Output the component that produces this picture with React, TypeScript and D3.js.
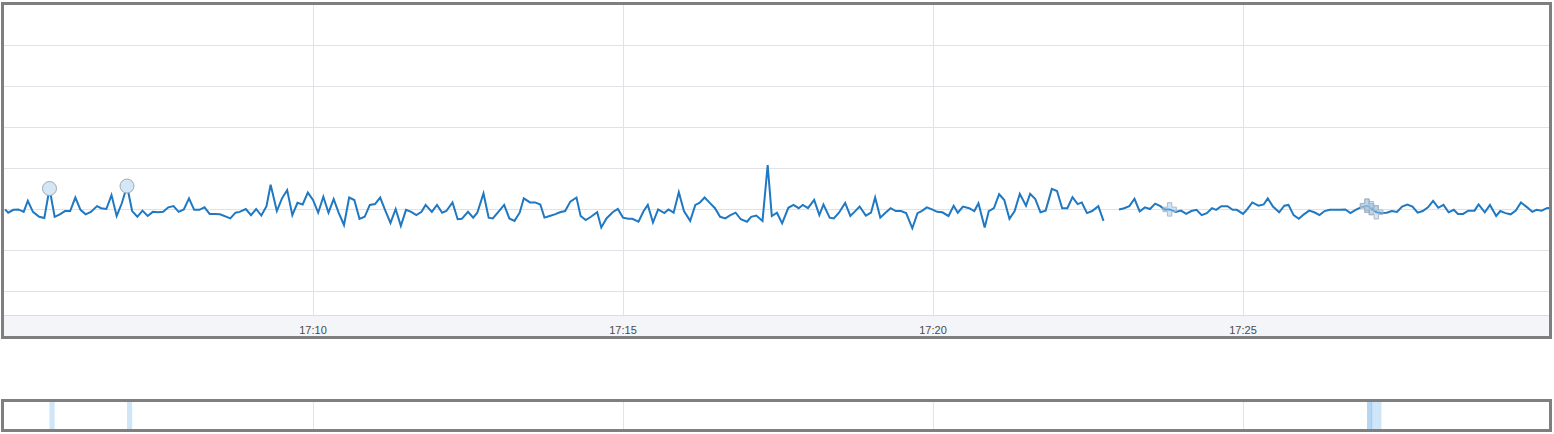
import React from "react";
import * as d3 from "d3";

// seconds after 17:05:00, value
const seriesBeforeGap: [number, number][] = [
  [2, 29.9], [5, 29.1], [10, 29.8], [15, 29.9], [20, 29.3], [24, 32.0], [29, 29.3], [35, 28.1], [40, 27.8], [45, 35.0],
  [50, 28.1], [55, 28.7], [60, 29.5], [65, 29.5], [70, 32.8], [75, 29.8], [80, 28.7], [85, 29.3], [91, 30.7], [95, 30.2],
  [100, 30.0], [105, 33.4], [110, 28.3], [115, 31.4], [120, 35.6], [125, 29.5], [130, 28.1], [135, 29.6], [140, 28.3], [145, 29.3],
  [150, 29.2], [155, 29.3], [160, 30.4], [165, 30.7], [170, 29.3], [175, 29.9], [180, 32.6], [185, 29.8], [190, 29.8], [195, 30.4],
  [200, 28.8], [205, 28.8], [210, 28.7], [220, 27.7], [225, 29.1], [229, 29.3], [235, 30.0], [240, 28.5], [245, 30.0], [250, 28.4],
  [255, 30.7], [259, 35.9], [265, 29.5], [270, 32.6], [275, 34.6], [280, 28.5], [285, 31.5], [290, 31.1], [295, 34.0], [300, 32.2],
  [305, 29.1], [310, 33.0], [315, 29.1], [320, 32.4], [325, 29.0], [330, 26.1], [335, 32.8], [340, 32.2], [345, 27.6], [350, 28.1],
  [355, 31.0], [360, 31.2], [365, 32.8], [370, 29.6], [375, 26.6], [380, 30.0], [385, 25.9], [390, 29.8], [395, 29.3], [400, 28.5],
  [405, 29.3], [409, 31.0], [415, 29.3], [420, 31.0], [425, 29.1], [429, 29.5], [435, 31.6], [440, 27.5], [444, 27.6], [450, 29.3],
  [455, 27.9], [459, 29.1], [465, 33.8], [470, 27.9], [474, 27.7], [480, 29.5], [485, 31.0], [490, 27.7], [495, 27.1], [500, 29.1],
  [504, 32.6], [510, 31.6], [515, 31.6], [520, 31.1], [524, 27.9], [529, 28.3], [534, 28.7], [539, 29.2], [544, 29.5], [549, 31.8],
  [555, 32.8], [559, 28.3], [564, 27.3], [569, 28.1], [575, 29.2], [579, 25.5], [584, 27.7], [590, 29.2], [595, 30.0], [600, 27.9],
  [605, 27.6], [609, 27.6], [615, 26.9], [620, 29.5], [624, 31.0], [629, 26.7], [634, 29.9], [640, 29.0], [644, 29.9], [649, 29.1],
  [654, 34.1], [659, 29.5], [665, 27.1], [670, 31.0], [674, 31.5], [679, 32.8], [684, 31.5], [689, 30.2], [694, 28.1], [699, 27.7],
  [704, 28.5], [709, 29.1], [714, 27.5], [720, 26.9], [724, 28.1], [729, 28.4], [735, 27.1], [740, 40.7], [744, 28.3], [749, 29.1],
  [754, 26.5], [760, 30.3], [765, 31.0], [770, 30.2], [774, 31.0], [779, 30.2], [785, 32.2], [790, 28.5], [794, 31.1], [800, 27.9],
  [804, 27.7], [809, 29.1], [815, 31.5], [820, 28.3], [824, 29.3], [829, 30.6], [835, 28.4], [840, 29.1], [844, 32.8], [849, 27.9],
  [854, 29.1], [859, 30.2], [864, 29.5], [869, 29.5], [874, 29.0], [880, 25.3], [885, 29.0], [889, 29.5], [894, 30.4], [899, 29.9],
  [904, 29.3], [909, 29.2], [915, 28.3], [920, 30.8], [924, 29.1], [929, 30.6], [935, 30.2], [940, 29.5], [944, 31.4], [950, 25.5],
  [954, 29.5], [959, 30.2], [964, 33.6], [969, 32.2], [974, 27.6], [979, 29.5], [984, 33.7], [990, 30.8], [994, 33.7], [999, 32.4],
  [1004, 29.2], [1009, 29.6], [1015, 34.9], [1020, 34.4], [1025, 30.2], [1030, 30.2], [1035, 32.9], [1040, 31.2], [1044, 31.6], [1049, 29.0],
  [1054, 29.5], [1060, 30.7], [1065, 27.1],
];

const seriesAfterGap: [number, number][] = [
  [1080, 29.9], [1085, 30.2], [1090, 30.7], [1095, 32.5], [1100, 29.4], [1105, 30.4], [1110, 30.0], [1115, 31.3], [1120, 30.7], [1124, 29.9],
  [1129, 29.9], [1135, 29.3], [1140, 29.6], [1145, 28.8], [1150, 29.5], [1155, 29.8], [1160, 28.5], [1165, 29.0], [1170, 30.2], [1174, 29.8],
  [1179, 30.7], [1185, 30.7], [1190, 29.8], [1194, 29.8], [1200, 28.8], [1204, 29.9], [1209, 31.6], [1215, 30.8], [1220, 31.1], [1224, 32.6],
  [1229, 30.6], [1235, 29.2], [1240, 30.8], [1244, 31.0], [1249, 28.5], [1254, 27.6], [1259, 28.7], [1264, 29.6], [1269, 29.2], [1274, 28.5],
  [1279, 29.5], [1284, 29.8], [1289, 29.8], [1294, 29.8], [1299, 29.9], [1304, 29.0], [1309, 29.8], [1314, 30.4], [1320, 30.8], [1324, 30.2],
  [1329, 29.2], [1334, 29.0], [1339, 29.1], [1344, 29.5], [1349, 29.3], [1354, 30.6], [1359, 31.1], [1364, 30.6], [1369, 29.1], [1374, 29.5],
  [1379, 30.4], [1384, 32.0], [1389, 30.3], [1394, 31.0], [1399, 29.2], [1404, 29.8], [1408, 28.8], [1413, 28.8], [1418, 29.6], [1424, 29.6],
  [1428, 31.1], [1434, 29.2], [1439, 31.0], [1445, 28.3], [1449, 29.5], [1454, 29.0], [1459, 28.7], [1464, 29.6], [1469, 31.6], [1475, 30.4],
  [1480, 29.3], [1484, 29.8], [1489, 29.6], [1494, 30.2], [1499, 30.3],
];

const circleEvents = [45, 120];
const plusEvents = [1129, 1320, 1320, 1324, 1329];
const overviewBands = [45, 120, 1320, 1320, 1324, 1329];
const tickLabels = ["17:10", "17:15", "17:20", "17:25"];
const gridValues = [10, 20, 30, 40, 50, 60, 70];

const SAMPLE_SEC = 5;
const base = new Date(2024, 0, 1, 17, 5, 0);
const toDate = (s: number) => new Date(base.getTime() + s * 1000);
const labelToDate = (l: string) => {
  const [h, m] = l.split(":").map(Number);
  return new Date(2024, 0, 1, h, m, 0);
};

export default function App() {
  const W = 1554;
  const H = 434;
  const x = d3.scaleTime().domain([base, toDate(25 * 60)]).range([3, 1553]);
  const y = d3.scaleLinear().domain([0, 80]).range([332, 4]);

  const plotL = 4, plotR = 1549, plotT = 5, plotB = 315, axisB = 336;
  const ovT = 402, ovB = 429;

  const line = d3
    .line<[number, number]>()
    .x((d) => x(toDate(d[0])))
    .y((d) => y(d[1]));

  const all = [...seriesBeforeGap, ...seriesAfterGap];
  const valueAt = (s: number) => {
    const f = all.find((d) => d[0] === s);
    return f ? f[1] : 30;
  };
  const plusPath = d3.symbol().type(d3.symbolCross).size(100)() as string;
  const ticks = tickLabels.map(labelToDate);

  return (
    <div style={{ position: "absolute", left: 0, top: 0 }}>
      <svg width={W} height={H} style={{ display: "block" }}>
        <defs>
          <clipPath id="plotClip">
            <rect x={plotL} y={plotT} width={plotR - plotL} height={plotB - plotT} />
          </clipPath>
          <clipPath id="ovClip">
            <rect x={plotL} y={ovT} width={plotR - plotL} height={ovB - ovT} />
          </clipPath>
        </defs>

        {/* main panel */}
        <rect x={plotL} y={plotT} width={plotR - plotL} height={axisB - plotT} fill="#ffffff" />
        <rect x={plotL} y={plotB} width={plotR - plotL} height={axisB - plotB} fill="#f4f5f9" />
        <line x1={plotL} x2={plotR} y1={plotB + 0.5} y2={plotB + 0.5} stroke="#dcdde3" />
        <g>
          {gridValues.map((v) => (
            <line key={v} x1={plotL} x2={plotR} y1={Math.round(y(v)) + 0.5} y2={Math.round(y(v)) + 0.5} stroke="#e1e2e8" strokeWidth={1} />
          ))}
          {ticks.map((t, i) => (
            <line key={i} x1={Math.round(x(t)) + 0.5} x2={Math.round(x(t)) + 0.5} y1={plotT} y2={plotB} stroke="#e1e2e8" strokeWidth={1} />
          ))}
        </g>
        {ticks.map((t, i) => (
          <text
            key={i}
            x={x(t)}
            y={334}
            textAnchor="middle"
            fontFamily="'Liberation Sans', Arial, sans-serif"
            fontSize={11}
            fill="#4a4a4a"
          >
            {tickLabels[i]}
          </text>
        ))}
        <g clipPath="url(#plotClip)">
          {[seriesBeforeGap, seriesAfterGap].map((s, i) => (
            <path key={i} d={line(s) as string} fill="none" stroke="#1f78c1" strokeWidth={2} strokeLinejoin="miter" />
          ))}
          {circleEvents.map((s, i) => (
            <circle key={i} cx={x(toDate(s))} cy={y(valueAt(s))} r={7} fill="#d3e7f7" stroke="#a3a8ad" strokeWidth={1} />
          ))}
          {plusEvents.map((s, i) => (
            <path
              key={i}
              d={plusPath}
              transform={`translate(${x(toDate(s))},${y(valueAt(s))})`}
              fill="#9cc6ec"
              fillOpacity={0.45}
              stroke="#a6b0bb"
              strokeOpacity={0.85}
              strokeWidth={1}
            />
          ))}
        </g>
        <rect x={2.5} y={3.5} width={1548} height={334} fill="none" stroke="#7f7f7f" strokeWidth={3} />

        {/* overview panel */}
        <rect x={plotL} y={ovT} width={plotR - plotL} height={ovB - ovT} fill="#ffffff" />
        {ticks.map((t, i) => (
          <line key={i} x1={Math.round(x(t)) + 0.5} x2={Math.round(x(t)) + 0.5} y1={ovT} y2={ovB} stroke="#e4e4e8" strokeWidth={1} />
        ))}
        <g clipPath="url(#ovClip)">
          {overviewBands.map((s, i) => (
            <rect
              key={i}
              x={x(toDate(s))}
              y={ovT}
              width={x(toDate(s + SAMPLE_SEC)) - x(toDate(s))}
              height={ovB - ovT}
              fill="#8cc3ef"
              fillOpacity={0.42}
            />
          ))}
        </g>
        <rect x={2.5} y={400.5} width={1548} height={30} fill="none" stroke="#7f7f7f" strokeWidth={3} />
      </svg>
    </div>
  );
}
